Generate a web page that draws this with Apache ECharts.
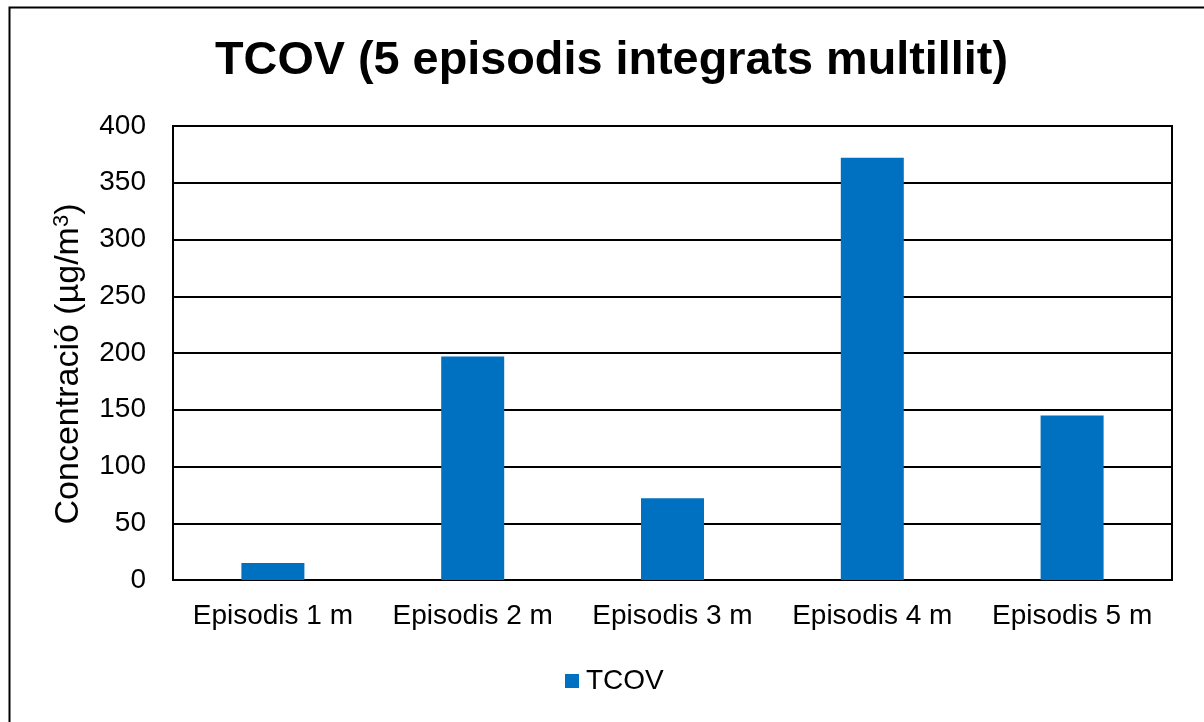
<!DOCTYPE html>
<html>
<head>
<meta charset="utf-8">
<script src="https://cdn.jsdelivr.net/npm/echarts@6/dist/echarts.min.js"></script>
<style>
  html, body { margin: 0; padding: 0; background: #fff; }
  #main { width: 1204px; height: 722px; }
</style>
</head>
<body>
<div id="main"></div>
<script>
// dades del gràfic
var categories = ['Episodis 1 m', 'Episodis 2 m', 'Episodis 3 m', 'Episodis 4 m', 'Episodis 5 m'];
var tcovValues = [15, 197, 72, 372, 145];
var seriesName = 'TCOV';
var titleText = 'TCOV (5 episodis integrats multillit)';
var yAxisName = 'Concentració (µg/m{sup|3})';

var myChart = echarts.init(document.getElementById('main'));

var font = 'Liberation Sans, Arial, sans-serif';

var option = {
    backgroundColor: '#fff',
    animation: false,
    title: {
        text: titleText,
        left: 210,
        top: 33,
        textStyle: {
            fontFamily: font,
            fontSize: 46.8,
            fontWeight: 'bold',
            color: '#000'
        }
    },
    legend: {
        data: [seriesName],
        bottom: 22,
        left: 560,
        itemWidth: 14,
        itemHeight: 14,
        itemGap: 6,
        icon: 'rect',
        textStyle: {fontFamily: font, fontSize: 28, color: '#000', padding: [0, 0, 0, 2]}
    },
    grid: {
        left: 173,
        right: 32,
        top: 126,
        bottom: 142,
        show: true,
        borderColor: '#000',
        borderWidth: 2
    },
    xAxis: {
        type: 'category',
        data: categories,
        axisLine: {lineStyle: {color: '#000', width: 2}},
        axisTick: {show: false},
        axisLabel: {interval: 0, fontFamily: font, fontSize: 28, color: '#000', margin: 22}
    },
    yAxis: {
        type: 'value',
        min: 0,
        max: 400,
        interval: 50,
        name: yAxisName,
        nameLocation: 'middle',
        nameGap: 86,
        nameTextStyle: {
            fontFamily: font,
            fontSize: 34,
            color: '#000',
            padding: [0, 22, 0, 0],
            rich: {
                sup: {fontFamily: font, fontSize: 22, color: '#000', verticalAlign: 'top', lineHeight: 36}
            }
        },
        axisLine: {show: true, lineStyle: {color: '#000', width: 2}},
        axisTick: {show: false},
        axisLabel: {fontFamily: font, fontSize: 28, color: '#000', margin: 27},
        splitLine: {lineStyle: {color: '#000', width: 2}}
    },
    graphic: [{
        type: 'rect',
        left: 7,
        top: 5,
        shape: {width: 1240, height: 760},
        style: {fill: 'none', stroke: '#000', lineWidth: 2},
        silent: true
    }],
    series: [{
        name: seriesName,
        type: 'bar',
        data: tcovValues,
        barWidth: 63,
        itemStyle: {color: '#0070C0'}
    }]
};

myChart.setOption(option);
</script>
</body>
</html>
